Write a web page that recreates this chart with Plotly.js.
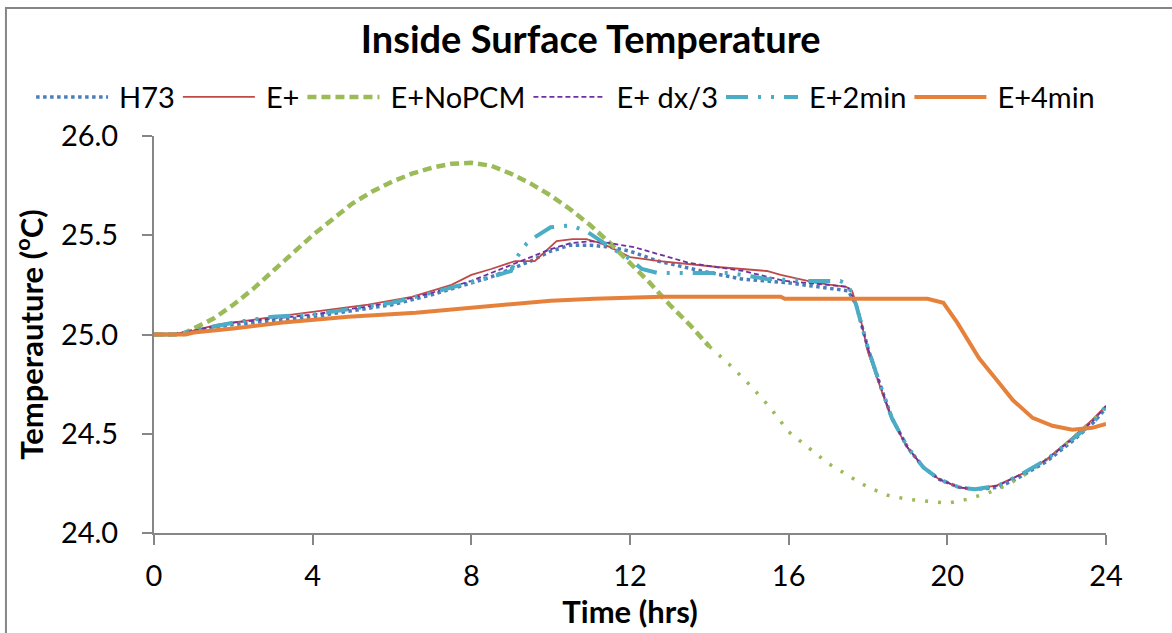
<!DOCTYPE html>
<html>
<head>
<meta charset="utf-8">
<script src="https://cdn.plot.ly/plotly-3.0.1.min.js"></script>
<style>html,body{margin:0;padding:0;background:#fff;}#chart{width:1172px;height:633px;}</style>
</head>
<body>
<div id="chart"></div>
<script>
// Time (hrs) and temperature (°C) values
const h73X = [0, 0.5, 1, 2, 3, 4, 5, 6, 7, 8, 8.5, 9, 9.5, 10, 10.5, 11, 11.5, 12, 12.7, 13.8, 14.8, 16, 17.2, 17.5, 17.7, 18, 18.3, 18.6, 19, 19.4, 19.8, 20.3, 20.7, 21.3, 21.9, 22.5, 23.2, 23.7, 24];
const h73Y = [25.0, 25.0, 25.02, 25.05, 25.07, 25.09, 25.12, 25.15, 25.2, 25.26, 25.29, 25.33, 25.37, 25.42, 25.45, 25.45, 25.44, 25.42, 25.37, 25.32, 25.28, 25.26, 25.23, 25.22, 25.15, 24.93, 24.75, 24.58, 24.43, 24.33, 24.27, 24.23, 24.22, 24.23, 24.29, 24.36, 24.47, 24.56, 24.63];

const ePlusX = [0, 0.5, 1, 1.6, 2.7, 3.9, 5.4, 6.5, 7.5, 8, 8.5, 9.1, 9.6, 10.15, 10.55, 10.9, 11.25, 11.5, 12, 12.75, 14.2, 15.45, 15.8, 16.7, 17.45, 17.6, 17.8, 18.0, 18.3, 18.6, 19.0, 19.4, 19.8, 20.3, 20.65, 21.25, 21.9, 22.5, 23.15, 23.65, 24];
const ePlusY = [25.0, 25.0, 25.02, 25.05, 25.08, 25.11, 25.15, 25.19, 25.25, 25.30, 25.33, 25.37, 25.37, 25.47, 25.48, 25.48, 25.46, 25.44, 25.39, 25.37, 25.34, 25.32, 25.30, 25.26, 25.24, 25.22, 25.09, 24.91, 24.74, 24.57, 24.43, 24.33, 24.27, 24.23, 24.22, 24.24, 24.30, 24.37, 24.48, 24.57, 24.64];

const noPcmX = [0, 0.7, 1, 1.5, 2, 2.5, 3, 3.5, 4, 4.5, 5, 5.5, 6, 6.5, 7, 7.5, 8, 8.5, 9, 9.5, 10, 10.5, 11, 11.5, 12, 12.5, 13, 13.5, 14, 14.5, 15, 15.5, 16, 16.5, 17, 17.5, 18, 18.5, 19, 19.5, 20, 20.5, 21, 21.5, 22, 22.5, 23, 23.5, 24];
const noPcmY = [25.0, 25.0, 25.03, 25.08, 25.15, 25.23, 25.32, 25.41, 25.5, 25.58, 25.66, 25.72, 25.77, 25.81, 25.84, 25.86, 25.865, 25.85, 25.81, 25.76, 25.70, 25.63, 25.55, 25.46, 25.36, 25.26, 25.15, 25.05, 24.94, 24.85, 24.75, 24.64, 24.51, 24.43, 24.35, 24.29, 24.23, 24.19, 24.17, 24.16, 24.15, 24.17, 24.2, 24.24, 24.3, 24.37, 24.45, 24.54, 24.63];

const dx3X = [0, 0.5, 1, 2, 3, 4, 5, 6, 7, 8, 8.5, 9, 9.5, 10, 10.5, 11, 11.5, 12.1, 13.5, 14.85, 15.9, 17.0, 17.5, 17.7, 18, 18.3, 18.6, 19, 19.4, 19.8, 20.3, 20.7, 21.3, 21.9, 22.5, 23.2, 23.7, 24];
const dx3Y = [25.0, 25.0, 25.02, 25.06, 25.08, 25.1, 25.13, 25.16, 25.21, 25.27, 25.31, 25.35, 25.39, 25.43, 25.46, 25.47, 25.46, 25.44, 25.36, 25.32, 25.27, 25.25, 25.24, 25.15, 24.93, 24.75, 24.58, 24.43, 24.33, 24.27, 24.23, 24.22, 24.24, 24.30, 24.37, 24.48, 24.57, 24.64];

const min2X = [0, 0.5, 1, 2, 3, 4, 5, 6, 7, 8, 8.5, 9, 9.15, 9.4, 9.6, 10, 10.5, 10.9, 11.5, 12, 12.3, 12.7, 13.3, 14.5, 15.45, 16.5, 17.3, 17.5, 17.7, 18, 18.3, 18.6, 19, 19.4, 19.8, 20.3, 20.7, 21.3, 21.9, 22.5, 23.2, 23.7, 24];
const min2Y = [25.0, 25.0, 25.02, 25.06, 25.09, 25.1, 25.13, 25.16, 25.21, 25.26, 25.29, 25.32, 25.39, 25.46, 25.49, 25.54, 25.55, 25.52, 25.44, 25.38, 25.33, 25.31, 25.31, 25.31, 25.28, 25.27, 25.27, 25.25, 25.15, 24.93, 24.75, 24.58, 24.43, 24.33, 24.27, 24.23, 24.22, 24.24, 24.30, 24.37, 24.48, 24.56, 24.64];

const min4X = [0, 0.8, 1, 2, 3.25, 4.9, 6.6, 8.3, 10, 11.1, 12.8, 15.8, 15.9, 19.5, 19.9, 20.25, 20.5, 20.8, 21.25, 21.65, 22.15, 22.65, 23.15, 23.65, 24];
const min4Y = [25.0, 25.0, 25.01, 25.03, 25.06, 25.09, 25.11, 25.14, 25.17, 25.18, 25.19, 25.19, 25.18, 25.18, 25.16, 25.06, 24.98, 24.88, 24.77, 24.67, 24.58, 24.54, 24.52, 24.53, 24.55];

const seriesNames = ["H73", "E+", "E+NoPCM", "E+ dx/3", "E+2min", "E+4min"];
const xTicks = [0, 4, 8, 12, 16, 20, 24];
const yTicks = [24.0, 24.5, 25.0, 25.5, 26.0];

const FONT = "Lato, 'Open Sans', sans-serif";
const split = noPcmX.indexOf(14);

const traces = [
  {x: h73X, y: h73Y, name: seriesNames[0], mode: "lines",
   line: {color: "#4a7ebb", width: 3.5, dash: "dot"}},
  {x: ePlusX, y: ePlusY, name: seriesNames[1], mode: "lines",
   line: {color: "#be4b48", width: 1.8}},
  {x: noPcmX.slice(0, split + 1), y: noPcmY.slice(0, split + 1), name: seriesNames[2], mode: "lines",
   legendgroup: "nopcm", line: {color: "#9bbb59", width: 4.5, dash: "9px,5px"}},
  {x: noPcmX.slice(split), y: noPcmY.slice(split), name: seriesNames[2], mode: "lines",
   legendgroup: "nopcm", showlegend: false, line: {color: "#9bbb59", width: 3.5, dash: "3px,10px"}},
  {x: dx3X, y: dx3Y, name: seriesNames[3], mode: "lines",
   line: {color: "#7030a0", width: 1.8, dash: "5px,3px"}},
  {x: min2X, y: min2Y, name: seriesNames[4], mode: "lines",
   line: {color: "#4bacc6", width: 4, dash: "22px,10px,3px,10px,3px,10px"}},
  {x: min4X, y: min4Y, name: seriesNames[5], mode: "lines",
   line: {color: "#e6813b", width: 4}}
];

const layout = {
  width: 1172, height: 633,
  paper_bgcolor: "#fff", plot_bgcolor: "#fff",
  margin: {l: 154, r: 66, t: 136, b: 100, pad: 0},
  font: {family: FONT, color: "#000", size: 29},
  title: {text: "<b>Inside Surface Temperature</b>", font: {family: FONT, size: 38, color: "#000"},
          x: 0.504, xanchor: "center", y: 0.937, yanchor: "middle"},
  showlegend: true,
  legend: {orientation: "h", x: -0.127, xanchor: "left", y: 1.098, yanchor: "middle", itemwidth: 76,
           font: {family: FONT, size: 29, color: "#000"}, bgcolor: "rgba(0,0,0,0)", tracegroupgap: 0},
  xaxis: {
    range: [0, 24], tickvals: xTicks, ticktext: xTicks.map(String),
    showgrid: false, zeroline: false, showline: true, linecolor: "#868686", linewidth: 2,
    ticks: "outside", ticklen: 10, tickcolor: "#868686", tickwidth: 2, ticklabelstandoff: 6,
    tickfont: {family: FONT, size: 29, color: "#000"},
    title: {text: "<b>Time (hrs)</b>", font: {family: FONT, size: 31, color: "#000"}, standoff: 2}
  },
  yaxis: {
    range: [24, 26], tickvals: yTicks, ticktext: yTicks.map(v => v.toFixed(1)),
    showgrid: false, zeroline: false, showline: true, linecolor: "#868686", linewidth: 2,
    ticks: "outside", ticklen: 10, tickcolor: "#868686", tickwidth: 2, ticklabelstandoff: 18,
    tickfont: {family: FONT, size: 29, color: "#000"},
    title: {text: "<b>Temperauture (<sup>o</sup>C)</b>", font: {family: FONT, size: 31, color: "#000"}, standoff: 8}
  },
  shapes: [
    {type: "rect", xref: "paper", yref: "paper", x0: -0.1555, x1: 1.08, y0: -0.28, y1: 1.3224,
     line: {color: "#868686", width: 2}, fillcolor: "rgba(0,0,0,0)", layer: "below"}
  ]
};

Plotly.newPlot("chart", traces, layout, {displayModeBar: false, staticPlot: true}).then(function () {
  // lengthen the legend line samples to match the reference's long samples
  document.querySelectorAll("#chart .legendlines path").forEach(function (p) {
    p.setAttribute("d", "M3,0h72");
  });
});
</script>
</body>
</html>
